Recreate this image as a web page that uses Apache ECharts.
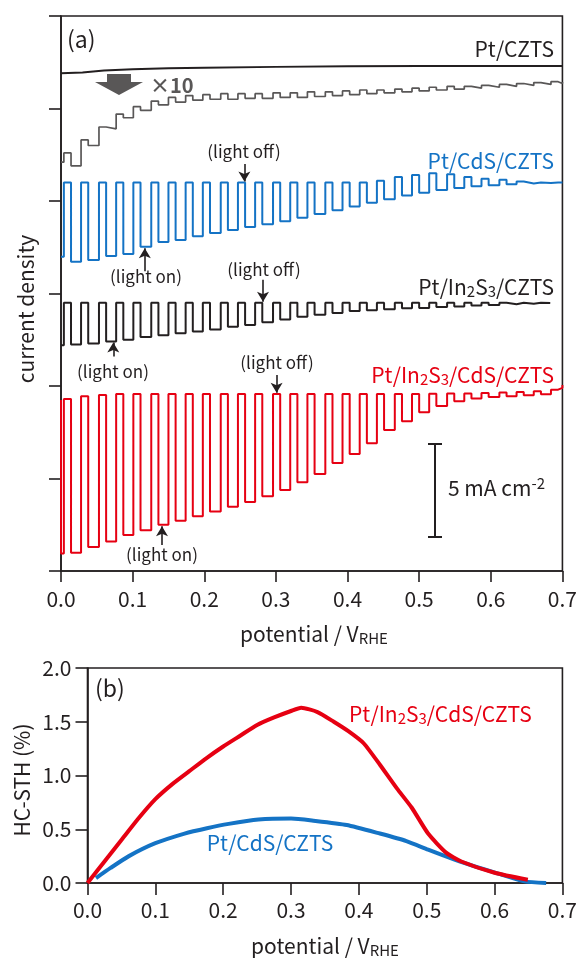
<!DOCTYPE html>
<html>
<head>
<meta charset="utf-8">
<script src="https://cdn.jsdelivr.net/npm/echarts@6/dist/echarts.min.js"></script>
<style>
  html, body { margin: 0; background: #fff; }
  #main { width: 580px; height: 958px; }
</style>
</head>
<body>
<div id="main"></div>
<script>
// chopped light: potentials (V) where the lamp goes off / comes back on
const darkStart = [0.004, 0.028, 0.053, 0.077, 0.101, 0.126, 0.150, 0.174, 0.198, 0.223,
  0.247, 0.271, 0.296, 0.320, 0.344, 0.369, 0.393, 0.417, 0.441, 0.466,
  0.490, 0.514, 0.539, 0.563, 0.587, 0.612, 0.636, 0.660, 0.684];
const darkEnd = [0.014, 0.038, 0.063, 0.087, 0.111, 0.136, 0.160, 0.184, 0.208, 0.233,
  0.257, 0.281, 0.306, 0.330, 0.354, 0.379, 0.403, 0.427, 0.451, 0.476,
  0.500, 0.524, 0.549, 0.573, 0.597, 0.622, 0.646, 0.670, 0.694];

// (a) offset current density, mA cm-2 (one value per dark / light period)
const czV = [0, 0.03, 0.06, 0.1, 0.15, 0.2, 0.3, 0.4, 0.5, 0.6, 0.7];
const czJ = [26.9, 26.95, 27.05, 27.12, 27.17, 27.2, 27.25, 27.28, 27.3, 27.3, 27.3];

const x10Dark = [22.6, 23.3, 24.0, 24.7, 25.1, 25.4, 25.6, 25.7, 25.75, 25.8, 25.8, 25.8, 25.85, 25.85, 25.9,
  25.9, 25.95, 26.0, 26.0, 26.05, 26.1, 26.15, 26.2, 26.2, 26.25, 26.3, 26.35, 26.4, 26.45];
const x10Light = [22.1, 21.9, 23.0, 23.9, 24.5, 24.9, 25.2, 25.35, 25.45, 25.5, 25.5, 25.55, 25.55, 25.6, 25.6,
  25.65, 25.7, 25.75, 25.8, 25.85, 25.9, 25.95, 26.0, 26.05, 26.1, 26.15, 26.2, 26.25, 26.3, 26.35];

const cdsDark = [21.0, 21.0, 21.0, 21.0, 21.0, 21.0, 21.0, 21.0, 21.0, 21.0, 21.0, 21.0, 21.0, 21.0, 21.0,
  21.0, 21.0, 21.0, 21.1, 21.3, 21.4, 21.5, 21.45, 21.3, 21.2, 21.15, 21.05, 21.0, 21.0];
const cdsLight = [16.99, 16.72, 16.81, 17.03, 17.14, 17.53, 17.78, 17.89, 18.1, 18.27, 18.43, 18.6, 18.75, 18.9, 19.1,
  19.3, 19.5, 19.7, 19.9, 20.1, 20.3, 20.45, 20.6, 20.7, 20.8, 20.85, 20.9, 20.95, 20.97, 21.0];

const inDark = [14.5, 14.5, 14.5, 14.5, 14.5, 14.5, 14.5, 14.5, 14.5, 14.5, 14.5, 14.5, 14.5, 14.5,
  14.5, 14.5, 14.5, 14.5, 14.5, 14.5, 14.5, 14.5, 14.5, 14.5, 14.5, 14.5, 14.5, 14.5];
const inLight = [12.2, 12.25, 12.3, 12.4, 12.5, 12.65, 12.75, 12.85, 12.95, 13.05, 13.2, 13.3, 13.45, 13.6, 13.75,
  13.85, 13.95, 14.05, 14.1, 14.15, 14.2, 14.22, 14.27, 14.3, 14.35, 14.38, 14.42, 14.45, 14.48];

const inCdsDark = [9.3, 9.45, 9.52, 9.57, 9.57, 9.57, 9.57, 9.57, 9.57, 9.57, 9.57, 9.57, 9.57, 9.57, 9.57,
  9.57, 9.57, 9.57, 9.57, 9.57, 9.57, 9.58, 9.6, 9.6, 9.62, 9.65, 9.68, 9.72, 9.8];
const inCdsLight = [0.95, 0.98, 1.3, 1.6, 1.95, 2.2, 2.5, 2.72, 2.96, 3.22, 3.47, 3.73, 4.04, 4.38, 4.8,
  5.25, 5.84, 6.33, 6.9, 7.62, 8.1, 8.58, 8.92, 9.18, 9.33, 9.4, 9.45, 9.5, 9.55, 9.9];

// (b) HC-STH efficiency, %
const sthRedV = [0, 0.025, 0.05, 0.075, 0.1, 0.125, 0.15, 0.175, 0.2, 0.225, 0.25, 0.275, 0.3,
  0.315, 0.339, 0.363, 0.385, 0.407, 0.431, 0.456, 0.478, 0.502, 0.529, 0.551, 0.6, 0.649];
const sthRed = [0, 0.2, 0.4, 0.6, 0.78, 0.92, 1.04, 1.16, 1.27, 1.37, 1.47, 1.54, 1.6,
  1.63, 1.59, 1.5, 1.41, 1.3, 1.1, 0.88, 0.7, 0.46, 0.28, 0.2, 0.095, 0.03];
const sthBlueV = [0.0125, 0.034, 0.061, 0.1, 0.143, 0.176, 0.208, 0.252, 0.3, 0.333, 0.382, 0.431,
  0.47, 0.502, 0.54, 0.578, 0.611, 0.644, 0.676];
const sthBlue = [0.046, 0.14, 0.25, 0.37, 0.46, 0.51, 0.55, 0.59, 0.6, 0.58, 0.54, 0.46,
  0.39, 0.31, 0.22, 0.14, 0.077, 0.015, 0.0];

const xTicks = ['0.0', '0.1', '0.2', '0.3', '0.4', '0.5', '0.6', '0.7'];

const INK = '#231f20';
const BLUE = '#1473c5';
const RED = '#e60012';
const GRAY = '#595757';
const FONT = '"Noto Sans CJK JP", "Noto Sans", sans-serif';

// square wave from the dark/light values
function chopped(light, dark, endV, lead, tail) {
  const pts = [];
  if (lead != null) pts.push([0, lead]);
  pts.push([0, light[0]]);
  for (let k = 0; k < dark.length; k++) {
    pts.push([darkStart[k], light[k]]);
    pts.push([darkStart[k], dark[k]]);
    pts.push([darkEnd[k], dark[k]]);
    pts.push([darkEnd[k], light[k + 1]]);
  }
  pts.push([endV, light[dark.length]]);
  if (tail != null) pts.push([endV, tail]);
  return pts;
}

function arrow(v, from, to) {
  return [{ coord: [v, from], symbol: 'none' }, { coord: [v, to], symbol: 'arrow' }];
}

const arrowStyle = {
  silent: true,
  symbolSize: [9, 10],
  label: { show: false },
  lineStyle: { color: INK, width: 1.6, type: 'solid' },
  emphasis: { disabled: true }
};

const chartDom = document.getElementById('main');
const myChart = echarts.init(chartDom);

const tickLabel = {
  fontSize: 21, color: INK, fontFamily: FONT,
  formatter: function (v) { return xTicks[Math.round(v * 10)] || v.toFixed(1); }
};

const option = {
  animation: false,
  backgroundColor: '#fff',
  grid: [
    { left: 61, top: 16, width: 502, height: 555, show: true, borderColor: INK, borderWidth: 1.6 },
    { left: 87.5, top: 668, width: 475.5, height: 215, show: true, borderColor: INK, borderWidth: 1.6 }
  ],
  xAxis: [
    {
      gridIndex: 0, type: 'value', min: 0, max: 0.7, interval: 0.1,
      axisLine: { lineStyle: { color: INK, width: 1.6 } },
      axisTick: { inside: false, length: 11, lineStyle: { color: INK, width: 1.6 } },
      axisLabel: Object.assign({ margin: 18 }, tickLabel),
      splitLine: { show: false }
    },
    {
      gridIndex: 1, type: 'value', min: 0, max: 0.7, interval: 0.1,
      axisLine: { lineStyle: { color: INK, width: 1.6 } },
      axisTick: { inside: false, length: 12, lineStyle: { color: INK, width: 1.6 } },
      axisLabel: Object.assign({ margin: 17 }, tickLabel),
      splitLine: { show: false }
    }
  ],
  yAxis: [
    {
      gridIndex: 0, type: 'value', min: 0, max: 30, interval: 5,
      axisLine: { show: true, lineStyle: { color: INK, width: 1.6 } },
      axisTick: { show: true, inside: false, length: 12, lineStyle: { color: INK, width: 1.6 } },
      axisLabel: { show: false },
      splitLine: { show: false }
    },
    {
      gridIndex: 1, type: 'value', min: 0, max: 2, interval: 0.5,
      axisLine: { show: true, lineStyle: { color: INK, width: 1.6 } },
      axisTick: { show: true, inside: false, length: 12, lineStyle: { color: INK, width: 1.6 } },
      axisLabel: {
        margin: 16, fontSize: 21, color: INK, fontFamily: FONT,
        formatter: function (v) { return v.toFixed(1); }
      },
      splitLine: { show: false }
    }
  ],
  series: [
    {
      name: 'Pt/CZTS', type: 'line', xAxisIndex: 0, yAxisIndex: 0, showSymbol: false,
      data: czV.map(function (v, i) { return [v, czJ[i]]; }),
      lineStyle: { color: INK, width: 2 }
    },
    {
      name: 'Pt/CZTS x10', type: 'line', xAxisIndex: 0, yAxisIndex: 0, showSymbol: false,
      data: chopped(x10Light, x10Dark, 0.7, null, 26.43),
      lineStyle: { color: GRAY, width: 1.7 }
    },
    {
      name: 'Pt/CdS/CZTS', type: 'line', xAxisIndex: 0, yAxisIndex: 0, showSymbol: false,
      data: chopped(cdsLight, cdsDark, 0.7, null, null),
      lineStyle: { color: BLUE, width: 2 },
      markLine: Object.assign({ data: [arrow(0.256, 22.0, 21.05), arrow(0.117, 16.2, 17.45)] }, arrowStyle)
    },
    {
      name: 'Pt/In2S3/CZTS', type: 'line', xAxisIndex: 0, yAxisIndex: 0, showSymbol: false,
      data: chopped(inLight, inDark, 0.683, null, null),
      lineStyle: { color: INK, width: 2 },
      markLine: Object.assign({ data: [arrow(0.282, 15.75, 14.56), arrow(0.073, 11.6, 12.35)] }, arrowStyle)
    },
    {
      name: 'Pt/In2S3/CdS/CZTS', type: 'line', xAxisIndex: 0, yAxisIndex: 0, showSymbol: false,
      data: chopped(inCdsLight, inCdsDark, 0.7, 9.24, 10.05),
      lineStyle: { color: RED, width: 2 },
      markLine: Object.assign({ data: [arrow(0.301, 10.6, 9.63), arrow(0.141, 1.4, 2.42)] }, arrowStyle)
    },
    {
      name: 'STH Pt/CdS/CZTS', type: 'line', xAxisIndex: 1, yAxisIndex: 1, showSymbol: false, smooth: 0.2,
      data: sthBlueV.map(function (v, i) { return [v, sthBlue[i]]; }),
      lineStyle: { color: BLUE, width: 4 }
    },
    {
      name: 'STH Pt/In2S3/CdS/CZTS', type: 'line', xAxisIndex: 1, yAxisIndex: 1, showSymbol: false, smooth: 0.2,
      data: sthRedV.map(function (v, i) { return [v, sthRed[i]]; }),
      lineStyle: { color: RED, width: 4 }
    }
  ],
  graphic: []
};

// text helpers
function txt(x, y, text, size, color, align, extra) {
  return Object.assign({
    type: 'text', x: x, y: y, silent: true,
    style: {
      text: text, fill: color, font: size + 'px ' + FONT,
      align: align, verticalAlign: 'middle'
    }
  }, extra || {});
}
function richTxt(x, y, text, size, color, align, extra) {
  const el = txt(x, y, text, size, color, align, extra);
  el.style.rich = {
    a: { fontSize: size, fontFamily: FONT, fill: color },
    s: { fontSize: Math.round(size * 0.72), fontFamily: FONT, fill: color, padding: [9, 0, 0, 0] },
    u: { fontSize: Math.round(size * 0.72), fontFamily: FONT, fill: color, padding: [0, 0, 9, 0] }
  };
  return el;
}

const g = option.graphic;
// panel (a)
g.push(txt(67, 39, '(a)', 23, INK, 'left'));
g.push(txt(554, 49, 'Pt/CZTS', 21, INK, 'right'));
g.push(txt(554, 161, 'Pt/CdS/CZTS', 21, BLUE, 'right'));
g.push(richTxt(554, 287, '{a|Pt/In}{s|2}{a|S}{s|3}{a|/CZTS}', 21, INK, 'right'));
g.push(richTxt(554, 375, '{a|Pt/In}{s|2}{a|S}{s|3}{a|/CdS/CZTS}', 21, RED, 'right'));
g.push({
  type: 'polygon', silent: true,
  shape: { points: [[107, 74], [131, 74], [131, 82], [143, 82], [119, 95], [95, 82], [107, 82]] },
  style: { fill: GRAY }
});
const times10 = txt(150, 85, '×10', 20, GRAY, 'left');
times10.style.font = 'bold 20px ' + FONT;
g.push(times10);

g.push(txt(244, 152, '(light off)', 17, INK, 'center'));
g.push(txt(146, 277, '(light on)', 17, INK, 'center'));
g.push(txt(264, 270, '(light off)', 17, INK, 'center'));
g.push(txt(113, 372, '(light on)', 17, INK, 'center'));
g.push(txt(277, 363, '(light off)', 17, INK, 'center'));
g.push(txt(162, 555, '(light on)', 17, INK, 'center'));

// 5 mA cm-2 scale bar
g.push({ type: 'line', silent: true, shape: { x1: 435, y1: 444, x2: 435, y2: 537 }, style: { stroke: INK, lineWidth: 2 } });
g.push({ type: 'line', silent: true, shape: { x1: 428, y1: 444, x2: 442, y2: 444 }, style: { stroke: INK, lineWidth: 2 } });
g.push({ type: 'line', silent: true, shape: { x1: 428, y1: 537, x2: 442, y2: 537 }, style: { stroke: INK, lineWidth: 2 } });
g.push(richTxt(448, 488, '{a|5 mA cm}{u|-2}', 21, INK, 'left'));

g.push(txt(26, 309, 'current density', 21, INK, 'center', { rotation: Math.PI / 2 }));
g.push(richTxt(314, 634, '{a|potential / V}{s|RHE}', 21, INK, 'center'));

// panel (b)
g.push(txt(95, 688, '(b)', 23, INK, 'left'));
g.push(richTxt(349, 714, '{a|Pt/In}{s|2}{a|S}{s|3}{a|/CdS/CZTS}', 21, RED, 'left'));
g.push(txt(270, 843, 'Pt/CdS/CZTS', 21, BLUE, 'center'));
g.push(txt(22, 780, 'HC-STH (%)', 21, INK, 'center', { rotation: Math.PI / 2 }));
g.push(richTxt(325, 946, '{a|potential / V}{s|RHE}', 21, INK, 'center'));

option && myChart.setOption(option);
</script>
</body>
</html>
